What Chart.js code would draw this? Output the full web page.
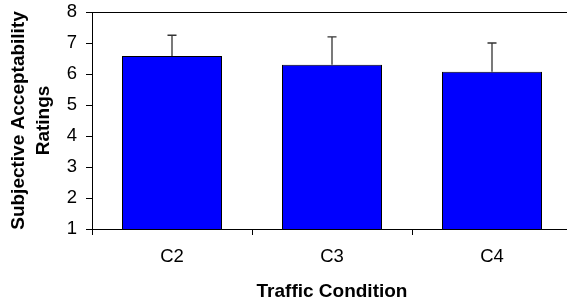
<!DOCTYPE html>
<html lang="en">
<head>
    <meta charset="UTF-8">
    <title>Subjective Acceptability Ratings</title>
    <style>
        html, body {
            margin: 0;
            padding: 0;
            background: #fff;
            overflow: hidden;
        }
        .chart-box {
            width: 567px;
            height: 300px;
            overflow: hidden;
        }
    </style>
</head>
<body>
<div class="chart-box">
    <canvas id="ratingChart" width="572" height="303"></canvas>
</div>

<script src="https://cdn.jsdelivr.net/npm/chart.js"></script>
<script>
    // values
    const categories = ['C2', 'C3', 'C4'];
    const ratings = [6.58, 6.30, 6.07];
    const errorsUp = [0.67, 0.90, 0.93];
    const yMin = 1;
    const yMax = 8;

    const fontFamily = "Arial, 'Liberation Sans', sans-serif";

    // draws the upper error bars and the top frame line
    const errorBarPlugin = {
        id: 'errorBars',
        afterDatasetsDraw(chart) {
            const ctx = chart.ctx;
            const yScale = chart.scales.y;
            const meta = chart.getDatasetMeta(0);
            ctx.save();
            ctx.strokeStyle = '#333';
            ctx.lineWidth = 1.3;
            meta.data.forEach((bar, i) => {
                const yTop = yScale.getPixelForValue(ratings[i] + errorsUp[i]);
                const yBase = yScale.getPixelForValue(ratings[i]);
                ctx.beginPath();
                ctx.moveTo(bar.x, yBase);
                ctx.lineTo(bar.x, yTop);
                ctx.moveTo(bar.x - 4.5, yTop);
                ctx.lineTo(bar.x + 4.5, yTop);
                ctx.stroke();
            });
            const area = chart.chartArea;
            ctx.strokeStyle = '#000';
            ctx.lineWidth = 1;
            ctx.beginPath();
            ctx.moveTo(area.left, area.top + 0.5);
            ctx.lineTo(area.right, area.top + 0.5);
            ctx.stroke();
            ctx.restore();
        }
    };

    const ctx = document.getElementById('ratingChart').getContext('2d');
    const ratingChart = new Chart(ctx, {
        type: 'bar',
        data: {
            labels: categories,
            datasets: [{
                label: 'Rating',
                data: ratings,
                backgroundColor: '#0000ff',
                borderColor: '#000',
                borderWidth: 1,
                barPercentage: 0.625,
                categoryPercentage: 1
            }]
        },
        options: {
            responsive: false,
            animation: false,
            layout: {
                padding: { top: 12, right: 0, bottom: 0, left: 0 }
            },
            plugins: {
                legend: { display: false },
                tooltip: { enabled: false }
            },
            scales: {
                x: {
                    border: { color: '#000', width: 1 },
                    grid: {
                        display: true,
                        drawOnChartArea: false,
                        drawTicks: true,
                        tickLength: 6,
                        color: '#000',
                        offset: true
                    },
                    ticks: {
                        color: '#000',
                        padding: 11,
                        font: { family: fontFamily, size: 18.5 }
                    },
                    title: {
                        display: true,
                        text: 'Traffic Condition',
                        color: '#000',
                        padding: { top: 0, bottom: 0 },
                        font: { family: fontFamily, size: 19, weight: 'bold' }
                    },
                    afterFit(scale) {
                        scale.height = 74;
                    }
                },
                y: {
                    min: yMin,
                    max: yMax,
                    border: { color: '#000', width: 1 },
                    grid: {
                        display: true,
                        drawOnChartArea: false,
                        drawTicks: true,
                        tickLength: 6,
                        color: '#000'
                    },
                    ticks: {
                        stepSize: 1,
                        color: '#000',
                        padding: 9,
                        font: { family: fontFamily, size: 18.5 }
                    },
                    title: {
                        display: true,
                        text: ['Subjective Acceptability', 'Ratings'],
                        color: '#000',
                        padding: { top: 7, bottom: 0 },
                        font: { family: fontFamily, size: 19, weight: 'bold', lineHeight: 1.29 }
                    },
                    afterFit(scale) {
                        scale.width = 92;
                        scale.paddingTop = 0;
                        scale.paddingBottom = 0;
                    }
                }
            }
        },
        plugins: [errorBarPlugin]
    });
</script>
</body>
</html>
